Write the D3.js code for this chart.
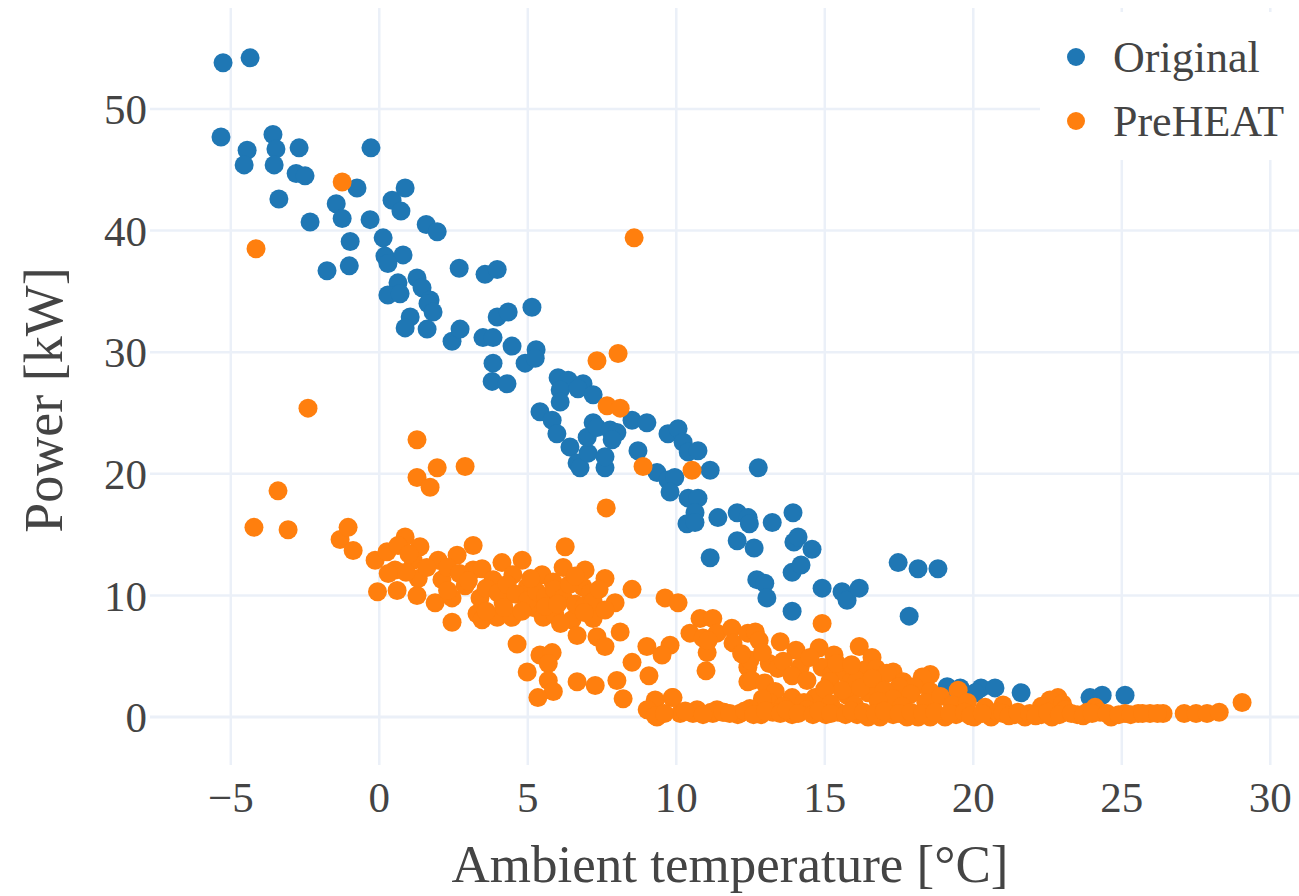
<!DOCTYPE html>
<html>
<head>
<meta charset="utf-8">
<script src="https://cdn.jsdelivr.net/npm/d3@7"></script>
<style>
  body { margin: 0; background: #fff; }
  text { font-family: "Liberation Serif", "Times New Roman", serif; fill: #444; }
</style>
</head>
<body>
<div id="dataviz"></div>
<script>
// ambient temperature [°C], power [kW]
const originalPoints = [
  [-5.26,53.8],[-4.35,54.2],[-5.33,47.7],[-4.45,46.6],[-4.55,45.4],[-3.58,47.9],[-3.48,46.7],[-3.54,45.4],
  [-2.70,46.8],[-2.80,44.7],[-2.50,44.5],[-3.38,42.6],[-2.33,40.7],[-1.45,42.2],[-1.25,41.0],[-0.75,43.5],
  [-0.28,46.8],[-0.31,40.9],[-0.98,39.1],[0.13,39.4],[0.19,37.9],[0.80,38.0],[0.43,42.5],[0.73,41.6],
  [0.87,43.5],[1.58,40.5],[1.95,39.9],[-1.76,36.7],[-1.01,37.1],[0.29,37.3],[0.63,35.7],[1.27,36.1],
  [1.44,35.3],[1.71,34.3],[0.29,34.7],[0.70,34.8],[1.64,34.0],[1.81,33.3],[1.04,32.9],[0.87,32.0],
  [1.61,31.9],[2.69,36.9],[3.56,36.4],[3.97,36.8],[2.45,30.9],[2.72,31.9],[3.97,32.9],[4.34,33.3],
  [5.14,33.7],[3.49,31.2],[3.83,31.2],[4.47,30.5],[5.28,30.2],[4.91,29.1],[5.25,29.5],[3.83,29.1],
  [3.80,27.6],[4.30,27.4],[6.02,27.9],[6.36,27.7],[6.86,27.4],[6.09,26.9],[6.09,25.9],[6.69,27.0],
  [7.20,26.5],[5.41,25.1],[5.82,24.4],[5.98,23.3],[6.42,22.2],[6.66,20.9],[6.76,20.5],[7.03,21.7],
  [7.20,24.2],[7.00,23.0],[7.60,20.5],[7.60,21.4],[7.33,23.8],[7.77,23.6],[8.00,23.4],[7.84,22.8],
  [8.51,24.4],[9.01,24.2],[8.71,21.9],[9.35,20.1],[9.72,19.5],[9.95,19.7],[9.79,18.5],[9.72,23.3],
  [10.06,23.7],[10.23,22.6],[10.40,21.8],[10.73,21.9],[11.14,20.3],[12.76,20.5],[10.40,18.0],[10.73,18.0],
  [10.63,16.8],[10.36,15.9],[10.63,16.0],[11.40,16.4],[12.05,16.8],[12.42,16.4],[12.46,15.9],[13.23,16.0],
  [13.93,16.8],[11.14,13.1],[12.05,14.5],[12.62,13.9],[13.96,14.4],[14.10,14.8],[14.57,13.8],[13.90,11.9],
  [14.20,12.5],[12.71,11.3],[12.98,11.0],[13.05,9.8],[14.91,10.6],[15.58,10.3],[15.75,9.6],[16.16,10.6],
  [13.90,8.7],[17.47,12.7],[18.14,12.2],[18.81,12.2],[17.84,8.3],[14.81,1.6],[17.30,2.0],[19.12,2.5],
  [20.26,2.4],[20.73,2.4],[21.61,2.0],[23.93,1.6],[24.34,1.8],[25.11,1.8],[20.06,2.0],[19.56,2.4]
];

const preheatPoints = [
  [-1.25,44.0],[-4.15,38.5],[8.58,39.4],[7.33,29.3],[8.04,29.9],[7.67,25.6],[8.11,25.4],[8.88,20.6],
  [10.53,20.3],[7.64,17.2],[2.89,20.6],[1.27,22.8],[1.95,20.5],[1.27,19.7],[1.71,18.9],[-2.40,25.4],
  [-3.41,18.6],[-4.22,15.6],[-3.07,15.4],
  [-1.32,14.6],[-1.05,15.6],[-0.88,13.7],[-0.14,12.9],[0.26,13.6],[0.87,14.8],[0.63,14.1],[1.37,14.0],
  [0.53,12.1],[1.14,12.9],[1.98,12.9],[2.62,13.3],[3.16,14.1],[-0.06,10.3],[0.60,10.4],[1.27,10.0],
  [1.88,9.4],[2.45,9.8],[2.11,11.3],[1.31,11.4],[2.89,10.8],[3.16,12.1],[3.46,12.2],[4.13,12.7],
  [4.81,12.9],[2.45,7.8],[3.39,9.8],[3.29,8.5],[3.46,8.0],[3.97,8.2],[4.17,9.4],[3.83,11.3],
  [4.50,11.7],[4.47,8.2],[4.98,10.7],[5.18,9.0],[5.48,11.7],[5.85,11.1],[6.26,14.0],[6.19,12.3],
  [5.52,8.2],[5.92,8.4],[6.93,12.1],[7.60,11.4],[6.86,10.7],[7.10,10.2],[6.49,8.0],[6.66,6.7],
  [7.20,8.1],[7.33,6.6],[7.60,5.8],[7.94,9.4],[8.11,7.0],[8.51,10.5],[9.62,9.8],[10.06,9.4],
  [2.30,12.3],[2.70,11.8],[3.00,11.2],[3.60,10.6],[4.00,10.2],[4.30,10.9],[4.60,10.1],[5.00,9.6],
  [5.30,10.3],[5.60,9.9],[5.90,10.5],[6.20,9.8],[6.40,10.9],[6.60,9.3],[6.90,9.1],[7.20,9.5],
  [5.60,9.1],[6.00,9.3],[4.80,8.7],[4.20,9.0],[0.90,11.9],[1.60,12.3],[0.30,11.8],[1.00,13.4],
  [2.30,10.4],[7.40,10.5],[6.90,8.6],[7.60,8.8],[6.10,7.7],[3.60,8.7],[5.10,11.4],[6.60,11.6],
  [4.64,6.0],[5.41,5.1],[5.82,5.3],[5.69,4.4],[4.98,3.7],[5.69,3.0],[5.86,2.1],[5.34,1.6],
  [6.66,2.9],[7.27,2.6],[8.00,3.0],[8.21,1.5],[8.51,4.5],[9.01,5.8],[9.79,5.9],[9.52,5.1],
  [9.08,3.4],[9.12,0.6],[9.35,0.0],[9.89,1.6],[10.13,0.3],[10.70,0.6],[11.37,0.6],[12.14,0.3],
  [10.80,8.1],[11.23,8.1],[10.46,6.9],[10.90,6.5],[11.37,6.9],[11.87,7.3],[11.91,6.1],[11.04,5.3],
  [11.00,3.8],[12.41,6.9],[12.41,4.1],[12.41,2.9],[9.29,1.4],[9.86,1.6],[9.02,0.6],[9.29,0.1],
  [10.56,0.3],[11.23,0.3],[11.61,0.4],
  [14.91,7.7],[11.07,6.3],[12.66,7.0],[12.79,6.3],[13.50,6.2],[14.03,5.5],[14.81,5.7],[15.31,5.1],
  [16.16,5.8],[16.59,4.9],[12.48,4.7],[13.13,4.4],[12.55,3.0],[12.98,2.8],[13.42,4.0],[14.17,4.1],
  [14.91,4.1],[15.24,3.5],[15.68,3.6],[15.88,2.9],[15.17,2.9],[16.36,3.9],[16.73,4.0],[17.30,3.7],
  [17.64,2.9],[16.86,2.8],[16.46,2.0],[15.75,1.8],[15.58,2.2],[13.90,1.6],[13.33,2.1],[13.13,1.2],
  [14.91,1.6],[18.55,3.5],[18.28,3.3],[19.49,2.2],[18.01,2.5],[18.55,2.1],[22.85,1.6],[22.58,1.4],
  [29.05,1.2],[17.09,3.6],[17.50,2.5],[16.09,3.0],[14.67,1.6],
  [12.20,5.2],[12.90,5.3],[13.60,4.6],[13.90,3.4],[14.40,3.0],[14.50,4.9],[15.00,2.3],[15.40,4.4],
  [15.90,4.3],[16.20,2.4],[16.60,3.2],[17.00,2.2],[17.30,1.5],[17.90,1.9],[18.40,1.2],[18.90,1.7],
  [16.00,1.0],[15.20,1.1],[13.60,0.9],[12.90,1.5],[14.30,1.2],[16.80,1.3],[17.60,0.9],[19.30,1.0],
  [19.80,1.2],[20.40,0.8],[21.00,1.0],[22.30,0.9],[23.00,1.1],[24.10,0.8],
  [11.17,0.4],[11.57,0.4],[12.07,0.2],[12.48,0.7],[12.85,0.2],[13.25,0.4],[13.90,0.2],[14.40,0.6],
  [15.04,0.2],[15.45,0.4],[16.09,0.2],[16.46,0.0],[16.86,0.0],[17.30,0.2],[17.77,0.0],[18.14,0.0],
  [18.55,0.0],[19.05,0.0],[19.42,0.2],[20.03,0.0],[20.60,0.0],[20.83,0.4],[21.37,0.2],[21.74,0.0],
  [22.29,0.2],[22.65,0.0],[23.09,0.6],[23.50,0.2],[23.83,0.4],[24.27,0.4],[24.64,0.0],[25.11,0.3],
  [25.55,0.3],[25.95,0.3],[26.39,0.3],[27.10,0.3],[27.50,0.3],[27.87,0.3],[28.28,0.4],
  [9.60,0.3],[10.30,0.5],[10.90,0.2],[11.80,0.3],[12.30,0.5],[12.60,0.2],[13.00,0.5],[13.50,0.3],
  [13.70,0.6],[14.10,0.3],[14.60,0.2],[14.80,0.5],[15.20,0.3],[15.70,0.2],[15.90,0.5],[16.30,0.4],
  [16.70,0.3],[17.00,0.5],[17.50,0.3],[17.90,0.4],[18.30,0.3],[18.70,0.4],[19.20,0.3],[19.70,0.4],
  [19.90,0.1],[20.30,0.3],[21.00,0.3],[21.20,0.1],[21.50,0.4],[21.90,0.3],[22.10,0.1],[22.50,0.4],
  [22.90,0.2],[23.30,0.3],[23.70,0.1],[24.00,0.3],[24.50,0.3],[24.90,0.2],[25.30,0.2],[25.70,0.3],
  [26.20,0.3]
];

const seriesNames = ["Original", "PreHEAT"];
const seriesColors = ["#1f77b4", "#ff7f0e"];
const xTicks = [-5, 0, 5, 10, 15, 20, 25, 30];
const yTicks = [0, 10, 20, 30, 40, 50];

const width = 1299, height = 896;
const plot = { left: 150, right: 1300, top: 8, bottom: 765 };

const svg = d3.select("#dataviz")
  .append("svg")
  .attr("width", width)
  .attr("height", height);

const x = d3.scaleLinear().domain([-7.72, 31]).range([plot.left, plot.right]);
const y = d3.scaleLinear().domain([-3.94, 58.3]).range([plot.bottom, plot.top]);
const fmt = d3.format("d"); // gives the real minus sign

// grid
svg.append("g")
  .selectAll("line")
  .data(xTicks)
  .join("line")
  .attr("x1", d => x(d)).attr("x2", d => x(d))
  .attr("y1", plot.top).attr("y2", plot.bottom)
  .attr("stroke", "#ebf0f8").attr("stroke-width", 2.5);

svg.append("g")
  .selectAll("line")
  .data(yTicks)
  .join("line")
  .attr("x1", plot.left).attr("x2", plot.right)
  .attr("y1", d => y(d)).attr("y2", d => y(d))
  .attr("stroke", "#ebf0f8").attr("stroke-width", d => d === 0 ? 3 : 2.5);

// tick labels
svg.append("g")
  .selectAll("text")
  .data(xTicks)
  .join("text")
  .attr("x", d => x(d))
  .attr("y", 812)
  .attr("text-anchor", "middle")
  .attr("font-size", "43px")
  .text(d => fmt(d));

svg.append("g")
  .selectAll("text")
  .data(yTicks)
  .join("text")
  .attr("x", 147)
  .attr("y", d => y(d))
  .attr("dy", "0.35em")
  .attr("text-anchor", "end")
  .attr("font-size", "43px")
  .text(d => fmt(d));

// axis titles
svg.append("text")
  .attr("x", 730)
  .attr("y", 882)
  .attr("text-anchor", "middle")
  .attr("font-size", "53px")
  .text("Ambient temperature [°C]");

svg.append("text")
  .attr("transform", "translate(62,400) rotate(-90)")
  .attr("text-anchor", "middle")
  .attr("font-size", "54px")
  .text("Power [kW]");

// points
svg.append("clipPath").attr("id", "plotclip")
  .append("rect")
  .attr("x", plot.left).attr("y", plot.top)
  .attr("width", plot.right - plot.left).attr("height", plot.bottom - plot.top);

[originalPoints, preheatPoints].forEach((pts, i) => {
  svg.append("g")
    .attr("clip-path", "url(#plotclip)")
    .selectAll("circle")
    .data(pts)
    .join("circle")
    .attr("cx", d => x(d[0]))
    .attr("cy", d => y(d[1]))
    .attr("r", 9.5)
    .attr("fill", seriesColors[i]);
});

// legend
const legend = svg.append("g");
legend.append("rect")
  .attr("x", 1040).attr("y", 12)
  .attr("width", 259).attr("height", 148)
  .attr("fill", "#fff");

const item = legend.selectAll("g")
  .data(seriesNames)
  .join("g")
  .attr("transform", (d, i) => `translate(1076, ${57 + i * 64})`);

item.append("circle")
  .attr("r", 9)
  .attr("fill", (d, i) => seriesColors[i]);

item.append("text")
  .attr("x", 37)
  .attr("dy", "0.35em")
  .attr("font-size", "44px")
  .text(d => d);
</script>
</body>
</html>
